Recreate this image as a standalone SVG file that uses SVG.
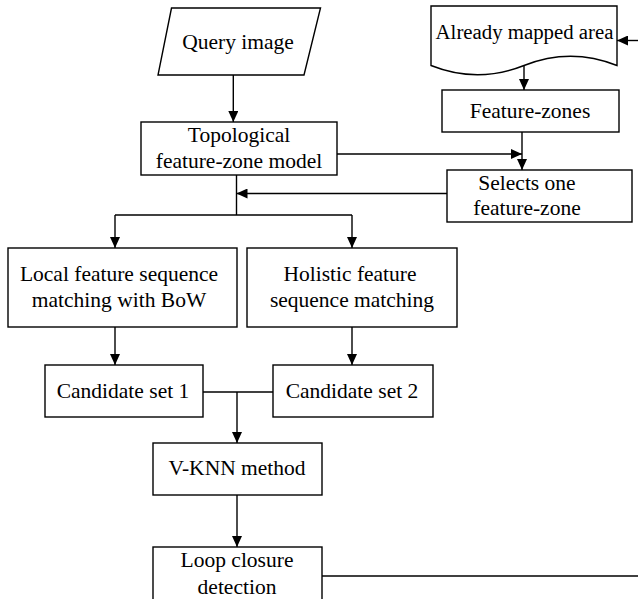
<svg xmlns="http://www.w3.org/2000/svg" width="638" height="599" viewBox="0 0 638 599">
<style>
.box{fill:#fff;stroke:#000;stroke-width:1.4}
.ln{fill:none;stroke:#000;stroke-width:1.4}
.arr{marker-end:url(#ah)}
text{font-family:"Liberation Serif","Times New Roman",serif;font-size:21.5px;fill:#000;text-anchor:middle}
</style>
<defs>
<marker id="ah" markerUnits="userSpaceOnUse" markerWidth="11" markerHeight="10" refX="11" refY="5" orient="auto">
<path d="M0,0 L11,5 L0,10 z" fill="#000"/>
</marker>
</defs>
<rect width="638" height="599" fill="#fff"/>
<g id="connectors">
<line class="ln arr" x1="233.3" y1="75" x2="233.3" y2="122"/>
<line class="ln arr" x1="524" y1="66" x2="524" y2="90"/>
<line class="ln arr" x1="638" y1="40.5" x2="617" y2="40.5"/>
<line class="ln arr" x1="337" y1="154" x2="522" y2="154"/>
<line class="ln arr" x1="522" y1="132" x2="522" y2="170"/>
<line class="ln arr" x1="447" y1="193.5" x2="236.5" y2="193.5"/>
<line class="ln" x1="236.5" y1="175" x2="236.5" y2="215"/>
<line class="ln" x1="115" y1="215" x2="352" y2="215"/>
<line class="ln arr" x1="115" y1="215" x2="115" y2="248"/>
<line class="ln arr" x1="352" y1="215" x2="352" y2="248"/>
<line class="ln arr" x1="115" y1="327" x2="115" y2="365"/>
<line class="ln arr" x1="352" y1="327" x2="352" y2="365"/>
<line class="ln" x1="203" y1="392" x2="273" y2="392"/>
<line class="ln arr" x1="237" y1="392" x2="237" y2="443"/>
<line class="ln arr" x1="237" y1="495" x2="237" y2="547"/>
<line class="ln" x1="322" y1="576" x2="638" y2="576"/>
</g>
<g id="query">
<polygon class="box" points="171.5,8 320.5,8 304,75 158,75"/>
<text x="238" y="49">Query image</text>
</g>
<g id="mapped">
<path class="box" d="M431,6 L617,6 L617,65.5 Q570.5,47 524,65.5 Q477.5,84 431,65.5 Z"/>
<text x="524.5" y="38.5" style="font-size:20.8px">Already mapped area</text>
</g>
<g id="zones">
<rect class="box" x="442" y="90" width="177" height="42"/>
<text x="530" y="118">Feature-zones</text>
</g>
<g id="topo">
<rect class="box" x="141" y="122" width="196" height="53"/>
<text x="239" y="142">Topological</text>
<text x="239" y="168">feature-zone model</text>
</g>
<g id="selects">
<rect class="box" x="447" y="170" width="185" height="52"/>
<text x="527" y="190">Selects one</text>
<text x="527" y="215">feature-zone</text>
</g>
<g id="local">
<rect class="box" x="8" y="248" width="229" height="79"/>
<text x="119" y="281">Local feature sequence</text>
<text x="119" y="307">matching with BoW</text>
</g>
<g id="holistic">
<rect class="box" x="247" y="248" width="210" height="79"/>
<text x="350" y="281">Holistic feature</text>
<text x="352" y="307">sequence matching</text>
</g>
<g id="cand1">
<rect class="box" x="45" y="365" width="158" height="52"/>
<text x="123" y="398">Candidate set 1</text>
</g>
<g id="cand2">
<rect class="box" x="273" y="365" width="160" height="52"/>
<text x="352" y="398">Candidate set 2</text>
</g>
<g id="vknn">
<rect class="box" x="153" y="443" width="169" height="52"/>
<text x="237" y="475">V-KNN method</text>
</g>
<g id="loop">
<rect class="box" x="153" y="547" width="169" height="60"/>
<text x="237" y="567">Loop closure</text>
<text x="237" y="594">detection</text>
</g>
</svg>
